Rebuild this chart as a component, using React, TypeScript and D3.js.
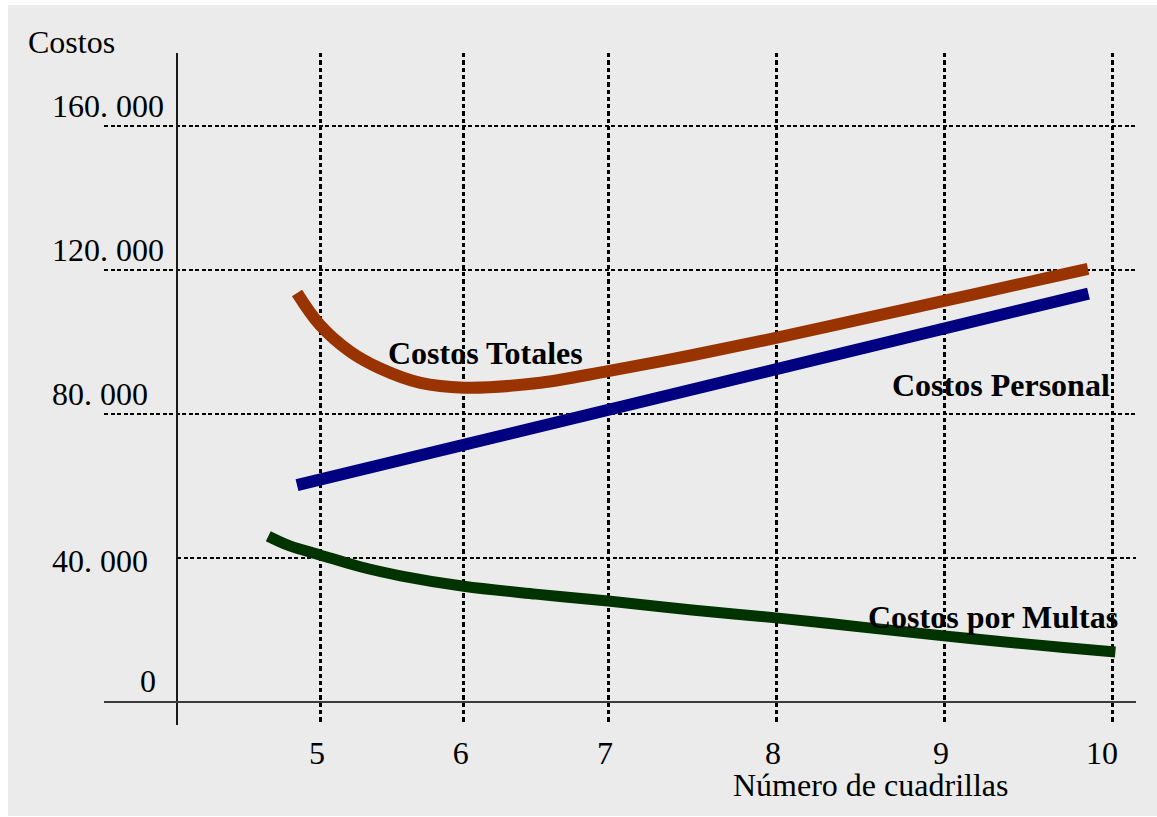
import React from "react";
import * as d3 from "d3";

// ---- data ----
const xTicks = [5, 6, 7, 8, 9, 10];
const xTickLabels = ["5", "6", "7", "8", "9", "10"];
const yTicks = [0, 40000, 80000, 120000, 160000];
const yTickLabels = ["0", "40. 000", "80. 000", "120. 000", "160. 000"];

const totalesX = [4.84, 5.0, 5.21, 5.42, 5.7, 6.0, 6.5, 7.0, 7.5, 8.0, 8.5, 9.0, 9.5, 9.857];
const totalesY = [113600, 104700, 97300, 92600, 88600, 87300, 88500, 91900, 96300, 101100, 106300, 111400, 116600, 120300];

const personalX = [4.84, 9.86];
const personalY = [60200, 113450];

const multasX = [4.64, 4.79, 5.0, 5.28, 5.56, 6.0, 6.5, 7.0, 7.5, 8.0, 8.5, 9.0, 9.5, 10.02];
const multasY = [46000, 43300, 40800, 37500, 35000, 32100, 29900, 28000, 25500, 23300, 20800, 18300, 16000, 13800];

const seriesNames = ["Costos Totales", "Costos Personal", "Costos por Multas"];
const seriesColors = ["#993300", "#000080", "#003300"];

const yAxisTitle = "Costos";
const xAxisTitle = "Número de cuadrillas";

// ---- layout ----
const W = 1157;
const H = 817;
const FONT = "'Liberation Serif', 'Times New Roman', serif";
const FS = 32;

const x = d3
  .scaleLinear()
  .domain([5, 6, 7, 8, 9, 10])
  .range([320, 463.7, 608, 776, 944, 1112]);
const y = d3.scaleLinear().domain([0, 160000]).range([701.7, 126.1]);

const zip = (xs: number[], ys: number[]) => xs.map((v, i) => [v, ys[i]] as [number, number]);

const lineGen = d3
  .line<[number, number]>()
  .x((d) => x(d[0]))
  .y((d) => y(d[1]))
  .curve(d3.curveCatmullRom.alpha(0.5));

export default function App() {
  const series = [
    { pts: zip(totalesX, totalesY), w: 12 },
    { pts: zip(personalX, personalY), w: 12 },
    { pts: zip(multasX, multasY), w: 11 },
  ];
  const gridTop = 53;
  const gridBottom = 725;
  const gridLeft = 104;
  const gridRight = 1136;
  const axisX = 177;
  const xLabelDx = (v: number) => (v === 10 ? -10 : -3);

  return (
    <svg
      width={W}
      height={H}
      style={{ position: "absolute", left: 0, top: 0 }}
      fontFamily={FONT}
    >
      <rect x={0} y={0} width={W} height={H} fill="#ffffff" />
      <rect x={8} y={5} width={W - 8} height={811} fill="#ebebeb" />

      {/* horizontal grid */}
      {yTicks
        .filter((v) => v > 0)
        .map((v) => (
          <line
            key={"hg" + v}
            x1={v === 40000 ? axisX : gridLeft}
            x2={gridRight}
            y1={y(v)}
            y2={y(v)}
            stroke="#000"
            strokeWidth={2}
            strokeDasharray="4 2.5"
            shapeRendering="crispEdges"
          />
        ))}
      {/* vertical grid */}
      {xTicks.map((v) => (
        <line
          key={"vg" + v}
          x1={x(v)}
          x2={x(v)}
          y1={gridTop}
          y2={gridBottom}
          stroke="#000"
          strokeWidth={3}
          strokeDasharray="4.3 3"
          shapeRendering="crispEdges"
        />
      ))}

      {/* axes */}
      <line x1={axisX} x2={axisX} y1={gridTop} y2={gridBottom} stroke="#1a1a1a" strokeWidth={2} shapeRendering="crispEdges" />
      <line x1={gridLeft} x2={gridRight} y1={y(0)} y2={y(0)} stroke="#3a3a3a" strokeWidth={2} shapeRendering="crispEdges" />

      {/* series */}
      {series.map((s, i) => (
        <path
          key={seriesNames[i]}
          d={lineGen(s.pts) || ""}
          fill="none"
          stroke={seriesColors[i]}
          strokeWidth={s.w}
          strokeLinecap="butt"
        />
      ))}

      {/* y tick labels */}
      {yTicks.map((v, i) =>
        v === 0 ? (
          <text key={"yl" + v} x={156} y={y(v) - 9.5} fontSize={FS} textAnchor="end" fill="#000">
            {yTickLabels[i]}
          </text>
        ) : (
          <text
            key={"yl" + v}
            x={52}
            y={v === 40000 ? y(v) + 14.5 : y(v) - 9}
            fontSize={FS}
            textAnchor="start"
            fill="#000"
          >
            {yTickLabels[i]}
          </text>
        )
      )}

      {/* x tick labels */}
      {xTicks.map((v, i) => (
        <text
          key={"xl" + v}
          x={x(v) + xLabelDx(v)}
          y={764}
          fontSize={FS}
          textAnchor="middle"
          fill="#000"
        >
          {xTickLabels[i]}
        </text>
      ))}

      {/* axis titles */}
      <text x={28} y={53} fontSize={FS} fill="#000">
        {yAxisTitle}
      </text>
      <text x={733} y={796} fontSize={FS} fill="#000">
        {xAxisTitle}
      </text>

      {/* series labels */}
      <text x={388} y={364} fontSize={FS} fontWeight="bold" fill="#000">
        {seriesNames[0]}
      </text>
      <text x={892} y={396} fontSize={FS} fontWeight="bold" fill="#000">
        {seriesNames[1]}
      </text>
      <text x={868} y={628} fontSize={FS} fontWeight="bold" fill="#000">
        {seriesNames[2]}
      </text>
    </svg>
  );
}
